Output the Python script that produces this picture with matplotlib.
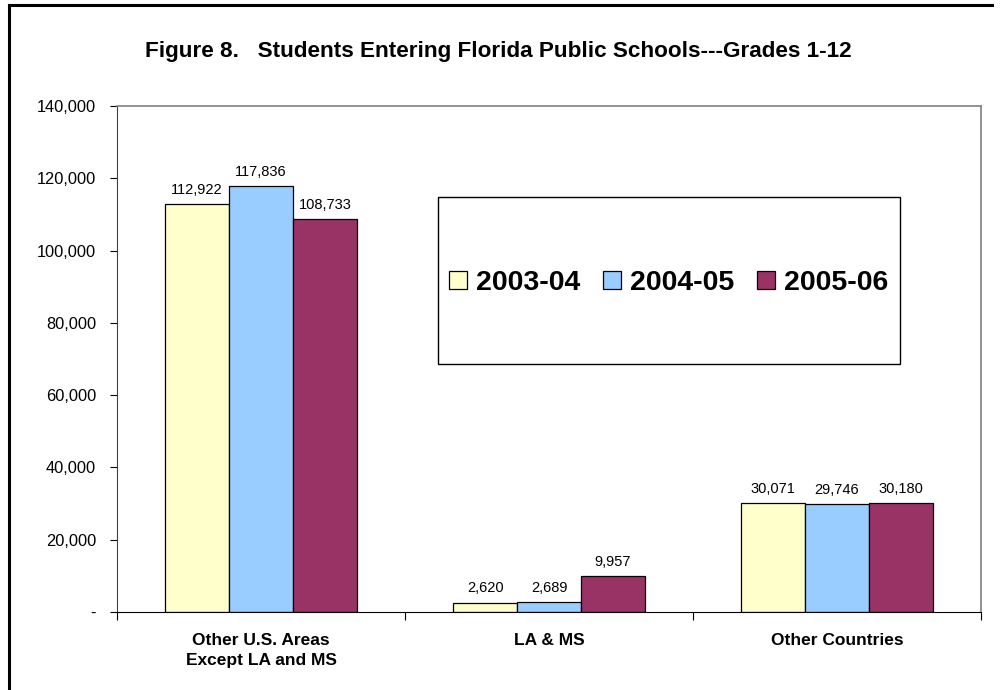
import numpy as np
import matplotlib.pyplot as plt
from matplotlib.lines import Line2D
from matplotlib.patches import Rectangle

plt.rcParams['font.family'] = ['Liberation Sans', 'DejaVu Sans']

categories = ["Other U.S. Areas\nExcept LA and MS", "LA & MS", "Other Countries"]
years = ["2003-04", "2004-05", "2005-06"]
v2003 = [112922, 2620, 30071]
v2004 = [117836, 2689, 29746]
v2005 = [108733, 9957, 30180]
colors = ["#FFFFCC", "#99CCFF", "#993366"]

W, H = 1001, 690
fig = plt.figure(figsize=(W / 100, H / 100), dpi=100)
ax = fig.add_axes([117 / W, 1 - 612 / H, (981 - 117) / W, (612 - 106) / H])

x = np.arange(len(categories))
bw = 0.222
for i, (vals, c) in enumerate(zip([v2003, v2004, v2005], colors)):
    bars = ax.bar(x + (i - 1) * bw, vals, bw, color=c, edgecolor="black", linewidth=0.9, label=years[i])
    for b, v in zip(bars, vals):
        ax.text(b.get_x() + b.get_width() / 2, v + 2000, f"{v:,}", ha="center", va="bottom", fontsize=10.5)

ax.set_xlim(-0.5, 2.5)
ax.set_ylim(0, 140000)
ax.set_yticks(np.arange(0, 140001, 20000))
ax.set_yticklabels(["-"] + [f"{v:,}" for v in range(20000, 140001, 20000)], fontsize=11.8)
ax.yaxis.set_tick_params(length=5, width=0.8, pad=10)

ax.set_xticks([-0.5, 0.5, 1.5, 2.5])
ax.set_xticklabels([])
ax.xaxis.set_tick_params(length=6, width=0.8)
for xc, lab in zip(x, categories):
    ax.text(xc, -5800, lab, ha="center", va="top", fontsize=12.5, fontweight="bold", linespacing=1.4)

for s in ["top", "right"]:
    ax.spines[s].set_color("#808080")
    ax.spines[s].set_linewidth(1.2)
ax.spines["left"].set_color("#404040")
ax.spines["bottom"].set_color("black")

# legend box drawn separately so it can be taller than the entries
fig.add_artist(Rectangle((438 / W, 1 - 364 / H), (900 - 438) / W, (364 - 197) / H, transform=fig.transFigure,
                         facecolor="white", edgecolor="black", linewidth=1.0, zorder=3))
leg = fig.legend(loc="center", bbox_to_anchor=(669 / W, 1 - 283 / H), ncol=3,
                 prop={"weight": "bold", "size": 20.5}, frameon=False,
                 handlelength=0.63, handleheight=0.63, handletextpad=0.32, columnspacing=0.8)
leg.set_zorder(4)

fig.text(498 / W, 1 - 52 / H, "Figure 8.   Students Entering Florida Public Schools---Grades 1-12",
         ha="center", va="center", fontsize=16.2, fontweight="bold")

fig.add_artist(Line2D([9 / W, 9 / W], [0, 1 - 5 / H], color="black", linewidth=2.2, transform=fig.transFigure))
fig.add_artist(Line2D([9 / W, 992 / W], [1 - 5 / H, 1 - 5 / H], color="black", linewidth=2.2, transform=fig.transFigure))

fig.savefig("out.png", dpi=100)
